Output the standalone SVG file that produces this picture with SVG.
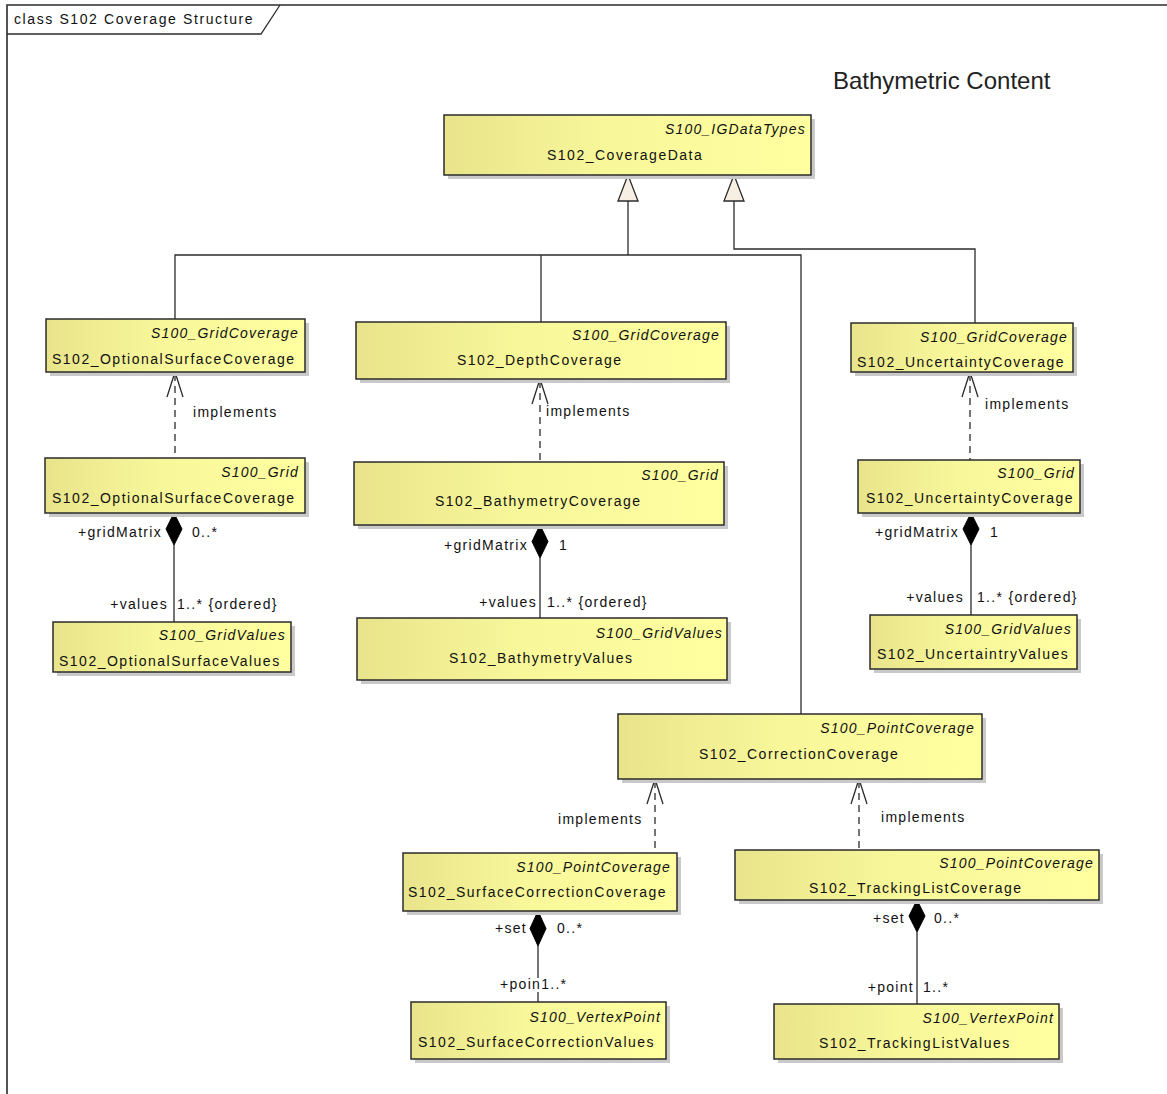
<svg xmlns="http://www.w3.org/2000/svg" width="1167" height="1094" viewBox="0 0 1167 1094">
<style>
.box{fill:url(#yg);stroke:#2b2b2b;stroke-width:1.5}
.sh{fill:#c9c9c9}
.st{font-family:"Liberation Sans",Arial,sans-serif;font-size:14px;font-style:italic;letter-spacing:1.2px;fill:#111;text-anchor:end}
.nm{font-family:"Liberation Sans",Arial,sans-serif;font-size:14px;letter-spacing:1.5px;fill:#111}
.lb{font-family:"Liberation Sans",Arial,sans-serif;font-size:14px;letter-spacing:1.3px;fill:#111}
.lbe{font-family:"Liberation Sans",Arial,sans-serif;font-size:14px;letter-spacing:1.3px;fill:#111;text-anchor:end}
.ln{fill:none;stroke:#2b2b2b;stroke-width:1.3}
.dash{fill:none;stroke:#2b2b2b;stroke-width:1.3;stroke-dasharray:7,5}
.tri{fill:#f6efe2;stroke:#2b2b2b;stroke-width:1.3}
.dia{fill:#000;stroke:#000;stroke-width:1}
</style>
<defs>
<linearGradient id="yg" x1="0" y1="0" x2="1" y2="0">
<stop offset="0" stop-color="#e9e48b"/>
<stop offset="0.45" stop-color="#f8f79a"/>
<stop offset="1" stop-color="#ffffa0"/>
</linearGradient>
</defs>
<rect width="1167" height="1094" fill="#fff"/>
<g id="frame">
<path d="M7,1094 V5 H1167" fill="none" stroke="#2b2b2b" stroke-width="1.6"/>
<path d="M7,34 H261 L280,5" fill="none" stroke="#2b2b2b" stroke-width="1.3"/>
<text x="14" y="24" class="lb" style="letter-spacing:1.6px">class S102 Coverage Structure</text>
</g>
<text id="title" x="833" y="89" font-family="'Liberation Sans',Arial,sans-serif" font-size="24" fill="#222">Bathymetric Content</text>

<g id="connectors">
<path class="ln" d="M628,201 V255 M175,319 V255 H801 V714 M541,255 V322 M734,201 V249 H975 V323"/>
<polygon class="tri" points="628,175 618,201 638,201"/>
<polygon class="tri" points="734,175 724,201 744,201"/>
<path class="dash" d="M175,374 V458 M540,381 V462 M970,374 V460 M655,781 V853 M859,781 V850"/>
<path class="ln" d="M167,397 L175,372 L183,397 M532,404 L540,379 L548,404 M962,397 L970,372 L978,397 M647,804 L655,779 L663,804 M851,804 L859,779 L867,804"/>
<path class="ln" d="M174,545 V622 M540,558 V618 M971,545 V615 M538,946 V978 M538,992 V1002 M917,932 V1004"/>
<polygon class="dia" points="174,513 182,529 174,545 166,529"/>
<polygon class="dia" points="540,525 548,541.5 540,558 532,541.5"/>
<polygon class="dia" points="971,513 979,529 971,545 963,529"/>
<polygon class="dia" points="538,911 546,928.5 538,946 530,928.5"/>
<polygon class="dia" points="917,900 925,916 917,932 909,916"/>
<text class="lb" x="193" y="417">implements</text>
<text class="lb" x="546" y="416">implements</text>
<text class="lb" x="985" y="409">implements</text>
<text class="lb" x="558" y="824">implements</text>
<text class="lb" x="881" y="822">implements</text>
<text class="lbe" x="162" y="537">+gridMatrix</text>
<text class="lb" x="192" y="537">0..*</text>
<text class="lbe" x="168" y="609">+values</text>
<text class="lb" x="177" y="609">1..* {ordered}</text>
<text class="lbe" x="528" y="550">+gridMatrix</text>
<text class="lb" x="559" y="550">1</text>
<text class="lbe" x="537" y="607">+values</text>
<text class="lb" x="547" y="607">1..* {ordered}</text>
<text class="lbe" x="959" y="537">+gridMatrix</text>
<text class="lb" x="990" y="537">1</text>
<text class="lbe" x="964" y="602">+values</text>
<text class="lb" x="977" y="602">1..* {ordered}</text>
<text class="lbe" x="527" y="933">+set</text>
<text class="lb" x="557" y="933">0..*</text>
<text class="lb" x="500" y="989">+poin1..*</text>
<text class="lbe" x="905" y="923">+set</text>
<text class="lb" x="934" y="923">0..*</text>
<text class="lbe" x="914" y="992">+point</text>
<text class="lb" x="923" y="992">1..*</text>
</g>

<g id="S102_CoverageData">
<rect class="sh" x="448" y="119" width="367" height="60"/>
<rect class="box" x="444" y="115" width="367" height="60"/>
<text class="st" x="806" y="134">S100_IGDataTypes</text>
<text class="nm" x="547" y="160">S102_CoverageData</text>
</g>
<g id="S102_OptionalSurfaceCoverage_GC">
<rect class="sh" x="50" y="323" width="259" height="53"/>
<rect class="box" x="46" y="319" width="259" height="53"/>
<text class="st" x="299" y="338">S100_GridCoverage</text>
<text class="nm" x="52" y="364">S102_OptionalSurfaceCoverage</text>
</g>
<g id="S102_DepthCoverage">
<rect class="sh" x="360" y="326" width="370" height="57"/>
<rect class="box" x="356" y="322" width="370" height="57"/>
<text class="st" x="720" y="340">S100_GridCoverage</text>
<text class="nm" x="457" y="365">S102_DepthCoverage</text>
</g>
<g id="S102_UncertaintyCoverage_GC">
<rect class="sh" x="855" y="327" width="222" height="49"/>
<rect class="box" x="851" y="323" width="222" height="49"/>
<text class="st" x="1068" y="342">S100_GridCoverage</text>
<text class="nm" x="857" y="367">S102_UncertaintyCoverage</text>
</g>
<g id="S102_OptionalSurfaceCoverage_G">
<rect class="sh" x="49" y="462" width="260" height="55"/>
<rect class="box" x="45" y="458" width="260" height="55"/>
<text class="st" x="299" y="477">S100_Grid</text>
<text class="nm" x="52" y="503">S102_OptionalSurfaceCoverage</text>
</g>
<g id="S102_BathymetryCoverage">
<rect class="sh" x="358" y="466" width="370" height="63"/>
<rect class="box" x="354" y="462" width="370" height="63"/>
<text class="st" x="719" y="480">S100_Grid</text>
<text class="nm" x="435" y="506">S102_BathymetryCoverage</text>
</g>
<g id="S102_UncertaintyCoverage_G">
<rect class="sh" x="862" y="464" width="222" height="53"/>
<rect class="box" x="858" y="460" width="222" height="53"/>
<text class="st" x="1075" y="478">S100_Grid</text>
<text class="nm" x="866" y="503">S102_UncertaintyCoverage</text>
</g>
<g id="S102_OptionalSurfaceValues">
<rect class="sh" x="57" y="626" width="238" height="50"/>
<rect class="box" x="53" y="622" width="238" height="50"/>
<text class="st" x="286" y="640">S100_GridValues</text>
<text class="nm" x="59" y="666">S102_OptionalSurfaceValues</text>
</g>
<g id="S102_BathymetryValues">
<rect class="sh" x="361" y="622" width="370" height="62"/>
<rect class="box" x="357" y="618" width="370" height="62"/>
<text class="st" x="723" y="638">S100_GridValues</text>
<text class="nm" x="449" y="663">S102_BathymetryValues</text>
</g>
<g id="S102_UncertaintryValues">
<rect class="sh" x="874" y="619" width="207" height="54"/>
<rect class="box" x="870" y="615" width="207" height="54"/>
<text class="st" x="1072" y="634">S100_GridValues</text>
<text class="nm" x="877" y="659">S102_UncertaintryValues</text>
</g>
<g id="S102_CorrectionCoverage">
<rect class="sh" x="622" y="718" width="364" height="65"/>
<rect class="box" x="618" y="714" width="364" height="65"/>
<text class="st" x="975" y="733">S100_PointCoverage</text>
<text class="nm" x="699" y="759">S102_CorrectionCoverage</text>
</g>
<g id="S102_SurfaceCorrectionCoverage">
<rect class="sh" x="407" y="857" width="274" height="58"/>
<rect class="box" x="403" y="853" width="274" height="58"/>
<text class="st" x="671" y="872">S100_PointCoverage</text>
<text class="nm" x="408" y="897">S102_SurfaceCorrectionCoverage</text>
</g>
<g id="S102_TrackingListCoverage">
<rect class="sh" x="739" y="854" width="364" height="50"/>
<rect class="box" x="735" y="850" width="364" height="50"/>
<text class="st" x="1094" y="868">S100_PointCoverage</text>
<text class="nm" x="809" y="893">S102_TrackingListCoverage</text>
</g>
<g id="S102_SurfaceCorrectionValues">
<rect class="sh" x="415" y="1006" width="255" height="57"/>
<rect class="box" x="411" y="1002" width="255" height="57"/>
<text class="st" x="661" y="1022">S100_VertexPoint</text>
<text class="nm" x="418" y="1047">S102_SurfaceCorrectionValues</text>
</g>
<g id="S102_TrackingListValues">
<rect class="sh" x="778" y="1008" width="285" height="55"/>
<rect class="box" x="774" y="1004" width="285" height="55"/>
<text class="st" x="1054" y="1023">S100_VertexPoint</text>
<text class="nm" x="819" y="1048">S102_TrackingListValues</text>
</g>
</svg>
